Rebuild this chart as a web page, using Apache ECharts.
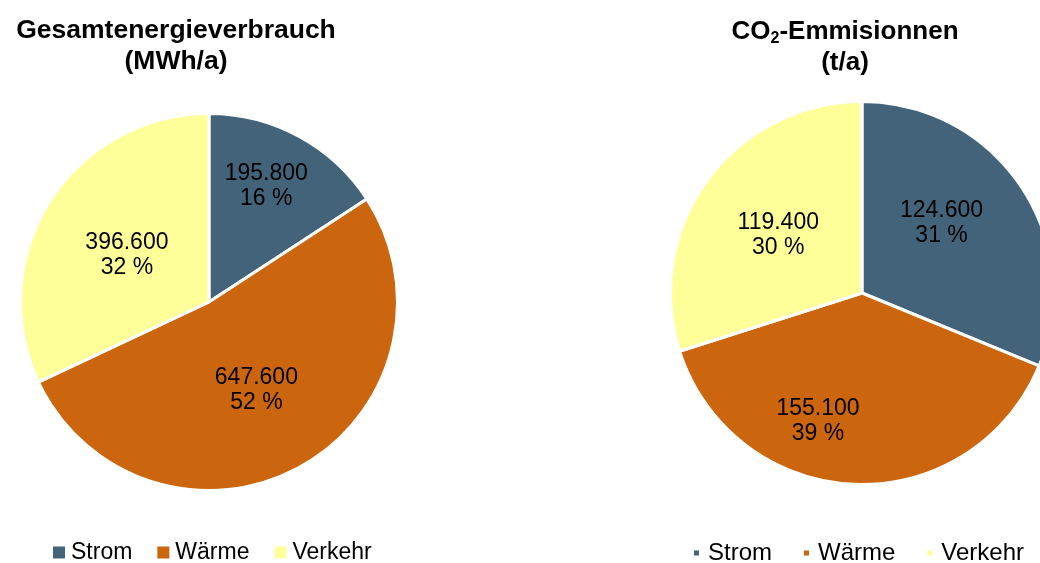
<!DOCTYPE html>
<html>
<head>
<meta charset="utf-8">
<script src="https://cdn.jsdelivr.net/npm/echarts@6/dist/echarts.min.js"></script>
<style>
  html, body { margin: 0; padding: 0; background: #fff; }
  #chart { width: 1040px; height: 563px; }
</style>
</head>
<body>
<div id="chart"></div>
<script>
// Daten
var categories = ['Strom', 'Wärme', 'Verkehr'];
var energyValues = [195800, 647600, 396600];   // MWh/a
var co2Values = [124600, 155100, 119400];      // t/a

var colors = ['#426379', '#cc660e', '#ffff99'];

// Tausenderpunkt wie im Original
function fmt(v) {
    return String(v).replace(/\B(?=(\d{3})+(?!\d))/g, '.');
}

// Label-Verschiebung: [links/rechts padding, Leerzeile oben, Leerzeile unten]
var leftNudge = [[[0, 0, 0, 22], 0, 60], [[0, 0, 0, 0], 6, 0], [[0, 0, 0, 0], 10, 0]];
var rightNudge = [[[0, 5, 0, 0], 0, 30], [[0, 80, 0, 0], 58, 0], [[0, 8, 0, 0], 0, 0]];

function makeData(values, nudge) {
    return categories.map(function (n, i) {
        var pad = nudge[i][0], top = nudge[i][1], bottom = nudge[i][2];
        return {
            name: n,
            value: values[i],
            label: {
                padding: pad,
                formatter: function (p) {
                    var s = fmt(p.value) + '\n' + Math.round(p.percent) + ' %';
                    if (top) s = '{t| }\n' + s;
                    if (bottom) s = s + '\n{b| }';
                    return s;
                },
                rich: {
                    t: { fontSize: 1, lineHeight: top || 1 },
                    b: { fontSize: 1, lineHeight: bottom || 1 }
                }
            }
        };
    });
}

window.onload = function () {
    var font = 'Liberation Sans, Arial, sans-serif';

    var labelOpt = {
        show: true,
        position: 'inside',
        color: '#000',
        fontSize: 23,
        lineHeight: 25,
        fontFamily: font
    };

    var option = {
        animation: false,
        color: colors,
        title: [{
            text: 'Gesamtenergieverbrauch\n(MWh/a)',
            left: 171,
            top: 10,
            textAlign: 'center',
            textStyle: { fontFamily: font, fontSize: 26.5, fontWeight: 'bold', color: '#000', lineHeight: 31 }
        }, {
            text: 'CO{sub|2}-Emmisionnen\n(t/a)',
            left: 840,
            top: 11,
            textAlign: 'center',
            textStyle: {
                fontFamily: font, fontSize: 26, fontWeight: 'bold', color: '#000', lineHeight: 31,
                rich: {
                    sub: { fontFamily: font, fontSize: 16, fontWeight: 'bold', color: '#000', verticalAlign: 'bottom', lineHeight: 16 }
                }
            }
        }],
        legend: [{
            data: categories,
            left: 51,
            top: 541,
            padding: 0,
            itemWidth: 14,
            itemHeight: 14,
            itemGap: 23,
            icon: 'rect',
            selectedMode: false,
            textStyle: { fontFamily: font, fontSize: 23, color: '#000' }
        }, {
            data: categories,
            left: 692,
            top: 541,
            padding: 0,
            itemWidth: 7,
            itemHeight: 7,
            itemGap: 30,
            icon: 'rect',
            selectedMode: false,
            textStyle: { fontFamily: font, fontSize: 24, color: '#000', padding: [0, 0, 0, 3] }
        }],
        series: [{
            type: 'pie',
            name: 'Gesamtenergieverbrauch',
            center: [209, 302],
            radius: 188.5,
            startAngle: 90,
            clockwise: true,
            itemStyle: { borderColor: '#fff', borderWidth: 3 },
            label: labelOpt,
            labelLine: { show: false },
            emphasis: { disabled: true },
            data: makeData(energyValues, leftNudge)
        }, {
            type: 'pie',
            name: 'CO2-Emmisionnen',
            center: [862, 293],
            radius: 191.5,
            startAngle: 90,
            clockwise: true,
            itemStyle: { borderColor: '#fff', borderWidth: 3 },
            label: labelOpt,
            labelLine: { show: false },
            emphasis: { disabled: true },
            data: makeData(co2Values, rightNudge)
        }]
    };

    var chart = echarts.init(document.getElementById('chart'));
    chart.setOption(option);
};
</script>
</body>
</html>
